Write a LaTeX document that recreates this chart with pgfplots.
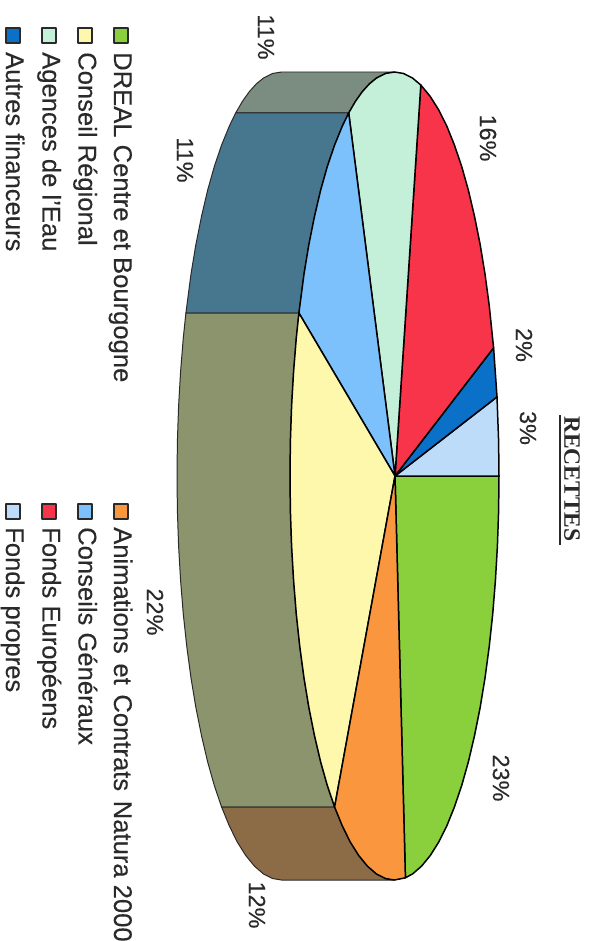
\documentclass[border=0pt]{standalone}
\usepackage{pgfplots}
\pgfplotsset{compat=1.18}
\usepackage{fontspec}
\setmainfont{Liberation Sans}[FakeBold=0.25]
\newfontfamily\serifb{Liberation Serif}
\definecolor{cGreen}{HTML}{8AD03C}
\definecolor{cFonds}{HTML}{BCDCFA}
\definecolor{cBlue}{HTML}{0A70C8}
\definecolor{cRed}{HTML}{F8344A}
\definecolor{cMint}{HTML}{C4EFD8}
\definecolor{cSky}{HTML}{7CC0FC}
\definecolor{cYellow}{HTML}{FDF8AC}
\definecolor{cOrange}{HTML}{FA973E}
\definecolor{sGray}{HTML}{7A8D80}
\definecolor{sTeal}{HTML}{47778F}
\definecolor{sOlive}{HTML}{8B946C}
\definecolor{sBrown}{HTML}{8C6B47}
\definecolor{ink}{HTML}{2A2A2A}
\tikzset{
  pside/.style={draw=ink,line width=1pt},
  ptop/.style={draw=black,line width=1.5pt},
  plab/.style={rotate=-90,text=ink,font=\fontsize{23.5}{25}\selectfont,inner sep=0pt},
  pleg/.style={rotate=-90,anchor=base west,text=ink,font=\fontsize{25.7}{28}\selectfont,inner sep=0pt},
  psw/.style={draw=ink,line width=1.6pt}}
\begin{document}
\begin{tikzpicture}
\useasboundingbox (0,0) rectangle (594bp,941bp);
\begin{axis}[at={(0,0)},anchor=south west,scale only axis,width=594bp,height=941bp,
  xmin=0,xmax=594,ymin=0,ymax=941,y dir=reverse,hide axis,clip=false,
  every axis plot/.append style={no markers,line join=round}]
% side faces
\addplot[pside,fill=sGray] coordinates {(235.7,112.9)(242.4,101.4)(249.2,91.8)(256.2,84)(263.4,78.1)(272.4,73.5)(281.5,72)(394.5,72)(385.4,73.5)(376.4,78.1)(369.2,84)(362.2,91.8)(355.4,101.4)(348.7,112.9)} --cycle;
\addplot[pside,fill=sTeal] coordinates {(235.7,112.9)(229.3,126.1)(221.6,145)(214.3,166.5)(207.6,190.3)(201.5,216.3)(195.9,244.3)(191,274)(185.9,313)(298.9,313)(304,274)(308.9,244.3)(314.5,216.3)(320.6,190.3)(327.3,166.5)(334.6,145)(342.3,126.1)(348.7,112.9)} --cycle;
\addplot[pside,fill=sOlive] coordinates {(185.9,313)(183.3,337.8)(180.6,371.4)(178.6,405.8)(177.4,440.8)(177,476)(177.4,511.2)(178.6,546.2)(180.6,580.6)(183.3,614.2)(186.8,646.7)(191,678)(195.9,707.7)(201.5,735.7)(207.6,761.7)(214.3,785.5)(221.6,807)(334.6,807)(327.3,785.5)(320.6,761.7)(314.5,735.7)(308.9,707.7)(304,678)(299.8,646.7)(296.3,614.2)(293.6,580.6)(291.6,546.2)(290.4,511.2)(290,476)(290.4,440.8)(291.6,405.8)(293.6,371.4)(296.3,337.8)(298.9,313)} --cycle;
\addplot[pside,fill=sBrown] coordinates {(221.6,807)(229.3,825.9)(237.3,842.1)(245.8,855.6)(254.5,866.2)(263.4,873.9)(272.4,878.5)(281.5,880)(394.5,880)(385.4,878.5)(376.4,873.9)(367.5,866.2)(358.8,855.6)(350.3,842.1)(342.3,825.9)(334.6,807)} --cycle;
% top slices
\addplot[ptop,fill=cGreen] coordinates {(395,476)(499,476)(498.6,511.2)(497.4,546.2)(495.4,580.6)(492.7,614.2)(489.2,646.7)(485,678)(480.1,707.7)(474.5,735.7)(468.4,761.7)(461.7,785.5)(454.4,807)(446.8,825.9)(438.7,842.1)(430.2,855.6)(421.5,866.2)(412.6,873.9)(405.4,877.8)} --cycle;
\addplot[ptop,fill=cFonds] coordinates {(395,476)(497,396.9)(498.6,440.8)(499,476)} --cycle;
\addplot[ptop,fill=cBlue] coordinates {(395,476)(493.6,347.8)(497,396.9)} --cycle;
\addplot[ptop,fill=cRed] coordinates {(395,476)(420.8,85)(430.2,96.4)(438.7,109.9)(446.8,126.1)(454.4,145)(461.7,166.5)(468.4,190.3)(474.5,216.3)(480.1,244.3)(485,274)(489.2,305.3)(493.6,347.8)} --cycle;
\addplot[ptop,fill=cMint] coordinates {(395,476)(348.7,112.9)(355.4,101.4)(362.2,91.8)(369.2,84)(376.4,78.1)(385.4,73.5)(394.5,72)(403.6,73.5)(412.6,78.1)(420.8,85)} --cycle;
\addplot[ptop,fill=cSky] coordinates {(395,476)(298.9,313)(304,274)(308.9,244.3)(314.5,216.3)(320.6,190.3)(327.3,166.5)(334.6,145)(342.3,126.1)(348.7,112.9)} --cycle;
\addplot[ptop,fill=cYellow] coordinates {(395,476)(334.6,807)(327.3,785.5)(320.6,761.7)(314.5,735.7)(308.9,707.7)(304,678)(299.8,646.7)(296.3,614.2)(293.6,580.6)(291.6,546.2)(290.4,511.2)(290,476)(290.4,440.8)(291.6,405.8)(293.6,371.4)(296.3,337.8)(298.9,313)} --cycle;
\addplot[ptop,fill=cOrange] coordinates {(395,476)(405.4,877.8)(394.5,880)(385.4,878.5)(376.4,873.9)(367.5,866.2)(358.8,855.6)(350.3,842.1)(342.3,825.9)(334.6,807)} --cycle;
% percentages
\node[plab] at (axis cs:488,138) {16\%};
\node[plab] at (axis cs:266,37) {11\%};
\node[plab] at (axis cs:185,160) {11\%};
\node[plab] at (axis cs:524,345) {2\%};
\node[plab] at (axis cs:528,428) {3\%};
\node[plab] at (axis cs:501,778) {23\%};
\node[plab] at (axis cs:155,612) {22\%};
\node[plab] at (axis cs:257,905) {12\%};
% title
\node[rotate=-90,inner sep=0pt,text=ink,font=\serifb\bfseries\fontsize{23.6}{26}\selectfont] at (axis cs:572,479) {RECETTES};
\addplot[draw=ink,line width=1.6pt] coordinates {(560,415)(560,545)};
% legend swatches
\addplot[psw,fill=cGreen] coordinates {(114,28)(128,28)(128,43)(114,43)} --cycle;
\addplot[psw,fill=cYellow] coordinates {(78,28)(92,28)(92,43)(78,43)} --cycle;
\addplot[psw,fill=cMint] coordinates {(42,28)(56,28)(56,43)(42,43)} --cycle;
\addplot[psw,fill=cBlue] coordinates {(6,28)(20,28)(20,43)(6,43)} --cycle;
\addplot[psw,fill=cOrange] coordinates {(114,504)(128,504)(128,519)(114,519)} --cycle;
\addplot[psw,fill=cSky] coordinates {(78,504)(92,504)(92,519)(78,519)} --cycle;
\addplot[psw,fill=cRed] coordinates {(42,504)(56,504)(56,519)(42,519)} --cycle;
\addplot[psw,fill=cFonds] coordinates {(6,504)(20,504)(20,519)(6,519)} --cycle;
% legend text
\node[pleg] at (axis cs:114,52) {DREAL Centre et Bourgogne};
\node[pleg] at (axis cs:78.5,52) {Conseil Régional};
\node[pleg] at (axis cs:42.5,52) {Agences de l'Eau};
\node[pleg] at (axis cs:6,52) {Autres financeurs};
\node[pleg] at (axis cs:114,527) {Animations\hspace{2.5pt} et\hspace{2.5pt} Contrats\hspace{2.5pt} Natura 2000};
\node[pleg] at (axis cs:78.5,527) {Conseils Généraux};
\node[pleg] at (axis cs:42.5,527) {Fonds Européens};
\node[pleg] at (axis cs:6,527) {Fonds propres};
\end{axis}
\end{tikzpicture}
\end{document}
